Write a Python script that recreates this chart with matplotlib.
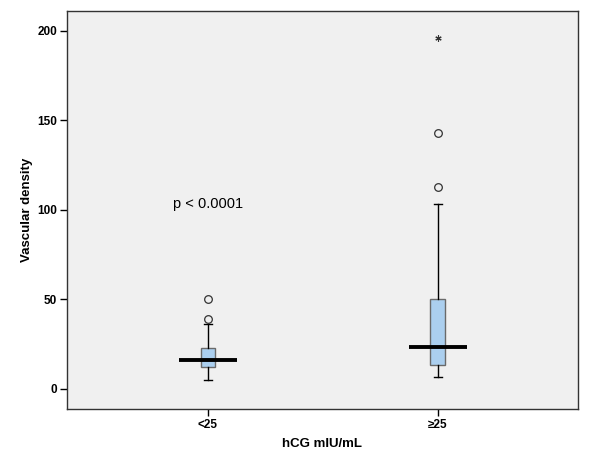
import matplotlib
matplotlib.use("Agg")
import matplotlib.pyplot as plt

plt.rcParams['font.family'] = ['Liberation Sans', 'DejaVu Sans']

# values
groups = ['<25', '≥25']
q1 = [12.1, 13.4]
median = [16.4, 23.3]
q3 = [22.7, 50.1]
whis_lo = [5.2, 6.7]
whis_hi = [36.3, 103.2]
outliers = [[39.3, 50.3], [113.0, 142.8]]
extremes = [[], [196.0]]

stats = []
for i, g in enumerate(groups):
    stats.append(dict(label=g, q1=q1[i], med=median[i], q3=q3[i],
                      whislo=whis_lo[i], whishi=whis_hi[i], fliers=[]))

fig = plt.figure(figsize=(6, 4.69), dpi=100)
ax = fig.add_axes([0.1117, 0.1279, 0.8516, 0.8486])
ax.set_facecolor('#f0f0f0')

pos = [1, 2]
ax.bxp(stats, positions=pos, widths=0.065, patch_artist=True, showfliers=False,
       boxprops=dict(facecolor='#abcfef', edgecolor='#6a6a6a', linewidth=1.0),
       whiskerprops=dict(color='black', linewidth=1.0),
       capprops=dict(color='black', linewidth=1.0),
       medianprops=dict(linewidth=0))
ax.hlines(median, [p - 0.126 for p in pos], [p + 0.126 for p in pos],
          colors='black', linewidth=2.8, zorder=5)

for p, vals in zip(pos, outliers):
    ax.plot([p] * len(vals), vals, 'o', mfc='none', mec='#333333',
            markersize=5.5, mew=0.9)
for p, vals in zip(pos, extremes):
    ax.plot([p] * len(vals), vals, linestyle='none', marker=(6, 2, 0),
            color='#333333', markersize=4.5, mew=0.8)

ax.text(1, 103, 'p < 0.0001', ha='center', va='center', fontsize=10.5)

ax.set_xlim(0.387, 2.609)
ax.set_ylim(-11.2, 211)
ax.set_xticks(pos)
ax.set_xticklabels(groups)
ax.set_yticks([0, 50, 100, 150, 200])
ax.tick_params(axis='both', direction='out', length=5, width=1, labelsize=8.5,
               pad=2)
for lab in ax.get_xticklabels() + ax.get_yticklabels():
    lab.set_fontweight('bold')
for s in ax.spines.values():
    s.set_color('#333333')
    s.set_linewidth(1.0)

ax.set_xlabel('hCG mIU/mL', fontsize=9.5, fontweight='bold', labelpad=5)
ax.set_ylabel('Vascular density', fontsize=9.5, fontweight='bold', labelpad=3)

fig.savefig('out.png', dpi=100)
